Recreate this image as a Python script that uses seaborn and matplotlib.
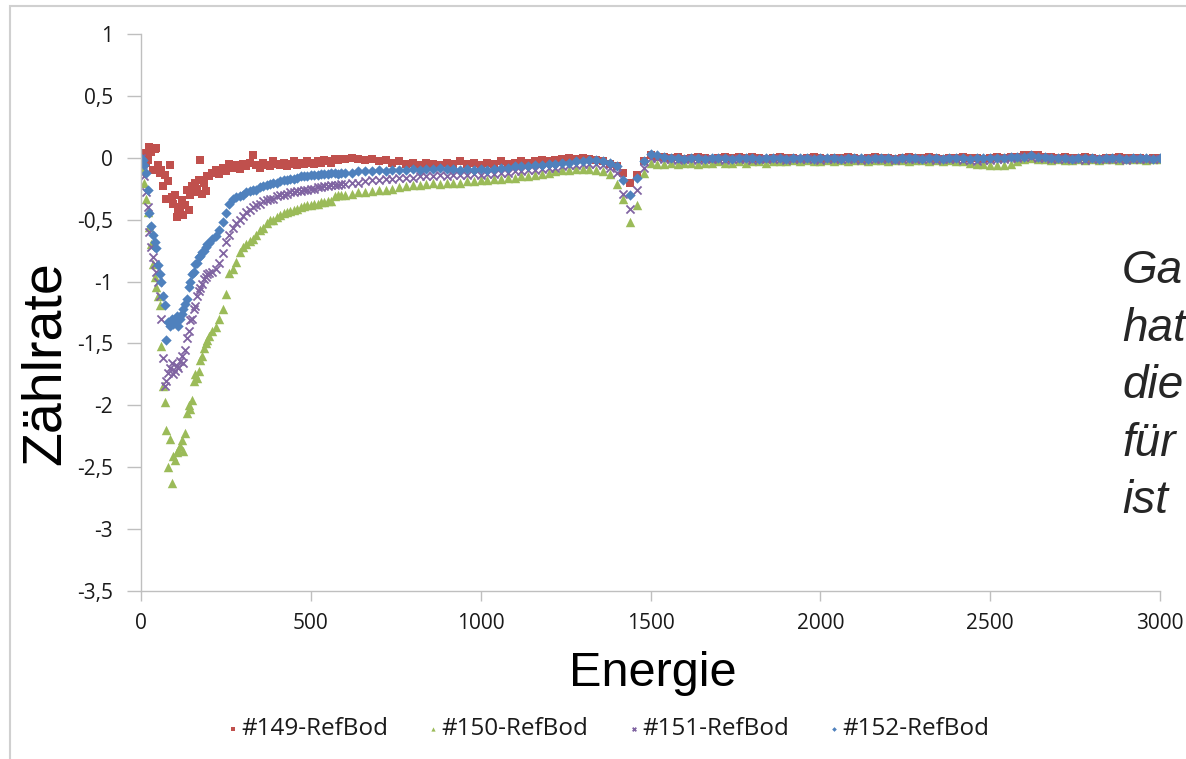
import numpy as np
import pandas as pd
import seaborn as sns
import matplotlib.pyplot as plt
from matplotlib.patches import Rectangle

# Energie-Raster: fein am Anfang, groeber im flachen Teil
energie = list(range(0, 200, 5)) + list(range(200, 600, 10)) + list(range(600, 3001, 20))

# #149-RefBod
rot_149 = [
    # 0 .. 195 (Schritt 5)
    0.0, 0.04, 0.02, -0.04, -0.02, 0.09, 0.05, -0.10, 0.07, 0.08,
    -0.06, -0.12, -0.10, -0.23, -0.14, -0.33, -0.19, -0.06, -0.32, -0.37,
    -0.30, -0.48, -0.44, -0.40, -0.34, -0.46, -0.38, -0.26, -0.42, -0.30,
    -0.23, -0.28, -0.20, -0.25, -0.18, -0.02, -0.29, -0.20, -0.27, -0.15,
    # 200 .. 590 (Schritt 10)
    -0.15, -0.12, -0.10, -0.13, -0.08, -0.11, -0.05, -0.08, -0.06, -0.09,
    -0.05, -0.07, -0.04, 0.02, -0.06, -0.08, -0.04, -0.06, -0.07, -0.03,
    -0.05, -0.06, -0.04, -0.07, -0.05, -0.03, -0.06, -0.04, -0.05, -0.03,
    -0.04, -0.05, -0.03, -0.04, -0.02, -0.03, -0.04, -0.01, -0.02, -0.01,
    # 600 .. 3000 (Schritt 20)
    -0.01, 0.0, -0.01, -0.02, -0.01, -0.03, -0.02, -0.04, -0.03, -0.05,
    -0.04, -0.06, -0.04, -0.05, -0.06, -0.04, -0.05, -0.03, -0.05, -0.04,
    -0.06, -0.04, -0.05, -0.03, -0.05, -0.04, -0.03, -0.04, -0.03, -0.02,
    -0.03, -0.02, -0.01, 0.0, -0.01, 0.0, -0.01, -0.02, -0.03, -0.05,
    -0.07, -0.12, -0.20, -0.14, -0.03, 0.02, 0.01,
    0.01, 0.0, 0.01, -0.01, 0.0, 0.01, 0.0, -0.01, 0.0, 0.01,
    0.0, 0.01, 0.0, 0.01, 0.0, -0.01, 0.0, 0.01, 0.0, 0.0,
    -0.01, 0.0, 0.01, 0.0, -0.01, 0.0, 0.0, 0.01, 0.0, -0.01,
    0.0, 0.01, 0.0, 0.0, -0.01, 0.0, 0.01, 0.0, 0.0, 0.01,
    0.0, -0.01, 0.0, 0.0, 0.01, 0.0, 0.0, -0.01, 0.0, 0.01,
    0.0, 0.01, 0.01, 0.02, 0.02, 0.02, 0.01, 0.01, 0.0, 0.01,
    0.0, 0.0, 0.01, 0.0, -0.01, 0.0, 0.0, 0.01, 0.0, 0.0,
    0.0, -0.01, 0.0, 0.0,
]

# #150-RefBod
gruen_150 = [
    0.0, -0.10, -0.20, -0.33, -0.44, -0.56, -0.70, -0.86, -0.96, -1.04,
    -1.12, -1.19, -1.52, -1.84, -1.97, -2.20, -2.50, -2.27, -2.63, -2.41,
    -2.44, -2.38, -2.36, -2.33, -2.28, -2.37, -2.22, -2.06, -2.00, -2.03,
    -1.96, -1.80, -1.75, -1.78, -1.72, -1.63, -1.60, -1.54, -1.50, -1.47,
    -1.44, -1.40, -1.37, -1.30, -1.22, -1.10, -0.93, -0.90, -0.84, -0.76,
    -0.72, -0.70, -0.67, -0.66, -0.62, -0.58, -0.57, -0.53, -0.50, -0.50,
    -0.48, -0.46, -0.45, -0.44, -0.43, -0.42, -0.41, -0.40, -0.39, -0.38,
    -0.38, -0.37, -0.37, -0.36, -0.36, -0.35, -0.35, -0.31, -0.30, -0.30,
    -0.30, -0.29, -0.28, -0.28, -0.27, -0.26, -0.26, -0.25, -0.24, -0.23,
    -0.22, -0.22, -0.21, -0.20, -0.21, -0.20, -0.20, -0.20, -0.19, -0.19,
    -0.18, -0.18, -0.17, -0.17, -0.16, -0.16, -0.15, -0.15, -0.14, -0.13,
    -0.12, -0.11, -0.10, -0.10, -0.09, -0.09, -0.09, -0.10, -0.11, -0.13,
    -0.21, -0.33, -0.52, -0.38, -0.12, -0.04, -0.05,
    -0.05, -0.04, -0.05, -0.04, -0.04, -0.05, -0.04, -0.04, -0.03, -0.04,
    -0.04, -0.03, -0.04, -0.03, -0.03, -0.04, -0.03, -0.03, -0.03, -0.02,
    -0.03, -0.02, -0.03, -0.03, -0.02, -0.03, -0.02, -0.03, -0.02, -0.02,
    -0.03, -0.02, -0.02, -0.03, -0.02, -0.02, -0.03, -0.02, -0.02, -0.03,
    -0.02, -0.03, -0.02, -0.03, -0.03, -0.04, -0.05, -0.05, -0.06, -0.06,
    -0.06, -0.05, -0.03, -0.01, 0.0, -0.01, -0.01, -0.02, -0.01, -0.02,
    -0.02, -0.01, -0.02, -0.01, -0.02, -0.01, -0.01, -0.02, -0.01, -0.01,
    -0.01, -0.02, -0.01, -0.01,
]

# #151-RefBod
lila_151 = [
    0.0, -0.05, -0.15, -0.28, -0.40, -0.60, -0.72, -0.80, -0.86, -0.92,
    -1.00, -1.12, -1.30, -1.62, -1.84, -1.80, -1.74, -1.70, -1.66, -1.75,
    -1.72, -1.68, -1.70, -1.64, -1.60, -1.66, -1.55, -1.46, -1.40, -1.31,
    -1.30, -1.22, -1.20, -1.12, -1.08, -1.05, -1.02, -0.98, -0.96, -0.94,
    -0.93, -0.92, -0.90, -0.85, -0.77, -0.68, -0.62, -0.57, -0.53, -0.50,
    -0.47, -0.44, -0.42, -0.40, -0.38, -0.37, -0.35, -0.34, -0.33, -0.33,
    -0.31, -0.30, -0.30, -0.29, -0.28, -0.28, -0.27, -0.27, -0.26, -0.26,
    -0.25, -0.25, -0.24, -0.24, -0.23, -0.23, -0.22, -0.22, -0.22, -0.21,
    -0.21, -0.20, -0.20, -0.19, -0.18, -0.18, -0.17, -0.17, -0.16, -0.16,
    -0.16, -0.15, -0.15, -0.15, -0.14, -0.15, -0.14, -0.14, -0.14, -0.13,
    -0.14, -0.13, -0.13, -0.12, -0.12, -0.11, -0.11, -0.10, -0.10, -0.09,
    -0.08, -0.08, -0.07, -0.06, -0.06, -0.05, -0.05, -0.05, -0.06, -0.08,
    -0.12, -0.29, -0.41, -0.26, -0.08, 0.0, 0.0,
    -0.01, -0.01, -0.02, -0.01, -0.01, -0.02, -0.01, -0.01, -0.01, -0.02,
    -0.01, -0.01, -0.01, -0.02, -0.01, -0.01, -0.01, -0.01, -0.02, -0.01,
    -0.01, -0.01, -0.01, -0.02, -0.01, -0.01, -0.01, -0.01, -0.01, -0.02,
    -0.01, -0.01, -0.01, -0.01, -0.02, -0.01, -0.01, -0.01, -0.01, -0.01,
    -0.02, -0.01, -0.01, -0.01, -0.02, -0.02, -0.03, -0.02, -0.02, -0.01,
    -0.01, 0.0, 0.0, 0.01, 0.01, 0.0, 0.0, -0.01, -0.01, -0.01,
    -0.01, -0.01, -0.02, -0.01, -0.01, -0.01, -0.01, -0.01, -0.02, -0.01,
    -0.01, -0.01, -0.01, -0.01,
]

# #152-RefBod
blau_152 = [
    0.0, -0.02, -0.06, -0.12, -0.26, -0.45, -0.55, -0.62, -0.68, -0.73,
    -0.87, -0.94, -1.00, -1.12, -1.19, -1.47, -1.33, -1.36, -1.30, -1.34,
    -1.32, -1.28, -1.36, -1.30, -1.26, -1.22, -1.18, -1.14, -1.04, -1.00,
    -0.94, -0.92, -0.86, -0.85, -0.80, -0.79, -0.76, -0.75, -0.72, -0.70,
    -0.69, -0.66, -0.63, -0.58, -0.52, -0.45, -0.37, -0.33, -0.32, -0.31,
    -0.30, -0.28, -0.27, -0.26, -0.26, -0.24, -0.23, -0.22, -0.21, -0.20,
    -0.20, -0.19, -0.18, -0.18, -0.17, -0.17, -0.16, -0.15, -0.15, -0.15,
    -0.14, -0.14, -0.14, -0.13, -0.13, -0.13, -0.12, -0.12, -0.13, -0.12,
    -0.12, -0.12, -0.11, -0.11, -0.11, -0.10, -0.11, -0.10, -0.10, -0.10,
    -0.09, -0.10, -0.09, -0.09, -0.08, -0.09, -0.09, -0.10, -0.09, -0.10,
    -0.09, -0.10, -0.09, -0.08, -0.08, -0.07, -0.07, -0.07, -0.06, -0.06,
    -0.05, -0.05, -0.04, -0.04, -0.03, -0.03, -0.02, -0.02, -0.03, -0.04,
    -0.07, -0.18, -0.30, -0.16, -0.03, 0.03, 0.02,
    0.01, 0.0, 0.0, -0.01, 0.0, 0.0, -0.01, 0.0, 0.0, 0.0,
    -0.01, 0.0, 0.0, 0.0, -0.01, 0.0, 0.0, 0.0, -0.01, 0.0,
    0.0, 0.0, -0.01, 0.0, 0.0, 0.0, -0.01, 0.0, 0.0, 0.0,
    -0.01, 0.0, 0.0, 0.0, -0.01, 0.0, 0.0, 0.0, -0.01, 0.0,
    0.0, -0.01, 0.0, 0.0, 0.0, -0.01, 0.0, 0.0, 0.0, 0.0,
    0.0, 0.01, 0.01, 0.01, 0.02, 0.01, 0.01, 0.0, 0.0, 0.0,
    -0.01, 0.0, 0.0, 0.0, -0.01, 0.0, 0.0, 0.0, -0.01, 0.0,
    0.0, 0.0, -0.01, 0.0,
]

serien = ["#149-RefBod", "#150-RefBod", "#151-RefBod", "#152-RefBod"]
farben = ["#C0504D", "#9BBB59", "#8064A2", "#4F81BD"]
marker = ["s", "^", "x", "D"]
groessen = [30, 46, 34, 28]

y_ticks = [1, 0.5, 0, -0.5, -1, -1.5, -2, -2.5, -3, -3.5]
y_ticklabels = ["1", "0,5", "0", "-0,5", "-1", "-1,5", "-2", "-2,5", "-3", "-3,5"]
x_ticks = [0, 500, 1000, 1500, 2000, 2500, 3000]

seitentext = ["Ga", "hat", "die", "für", "ist"]

df = pd.DataFrame({
    "Energie": energie * 4,
    "Zaehlrate": rot_149 + gruen_150 + lila_151 + blau_152,
    "Serie": np.repeat(serien, len(energie)),
})

sns.set_theme(style="white")
plt.rcParams["font.family"] = ["Open Sans", "DejaVu Sans"]

fig = plt.figure(figsize=(11.86, 7.59), dpi=100)
ax = fig.add_axes([141 / 1186, 1 - 591 / 759, (1160 - 141) / 1186, (591 - 34) / 759])

for name, col, m, s in zip(serien, farben, marker, groessen):
    sub = df[df["Serie"] == name]
    if m == "x":
        sns.scatterplot(data=sub, x="Energie", y="Zaehlrate", marker=m, color=col,
                        s=s, linewidth=1.3, label=name, ax=ax)
    else:
        sns.scatterplot(data=sub, x="Energie", y="Zaehlrate", marker=m, color=col,
                        s=s, linewidth=0, label=name, ax=ax)

ax.set_xlim(0, 3000)
ax.set_ylim(-3.5, 1)
ax.set_yticks(y_ticks, y_ticklabels)
ax.set_xticks(x_ticks)
for sp in ["top", "right"]:
    ax.spines[sp].set_visible(False)
for sp in ["left", "bottom"]:
    ax.spines[sp].set_color("#BFBFBF")
    ax.spines[sp].set_linewidth(1.0)
ax.tick_params(axis="y", direction="out", length=10, width=1, color="#BFBFBF",
               pad=10, labelsize=15, labelcolor="#1a1a1a", left=True)
ax.tick_params(axis="x", direction="out", length=7, width=1, color="#BFBFBF",
               pad=9, labelsize=15, labelcolor="#1a1a1a", bottom=True)

ax.set_ylabel("Zählrate", fontsize=40, family=["Liberation Sans", "DejaVu Sans"],
              color="black")
ax.yaxis.set_label_coords(-0.068, 0.41)
ax.set_xlabel("Energie", fontsize=35, family=["Liberation Sans", "DejaVu Sans"],
              color="black")
ax.xaxis.label.set_va("baseline")
ax.xaxis.set_label_coords((653 - 141) / 1019, (591 - 686) / 557)

ax.get_legend().remove()
handles, labels = ax.get_legend_handles_labels()
fig.legend(handles, labels, loc="center", bbox_to_anchor=(608 / 1186, 1 - 729 / 759),
           ncol=4, frameon=False, markerscale=0.45, handlelength=0.5,
           handletextpad=0.1, columnspacing=1.6, fontsize=17.5, labelcolor="#1a1a1a")

for i, t in enumerate(seitentext):
    fig.text(1122 / 1186, 1 - (283 + i * 57.5) / 759, t, fontsize=33, style="italic",
             family=["Liberation Sans", "DejaVu Sans"], va="baseline", ha="left")

fig.add_artist(Rectangle((10 / 1186, -0.02), 1.0, 1 - 6 / 759 + 0.02,
                         transform=fig.transFigure, fill=False,
                         edgecolor="#D0D0D0", linewidth=1.5))

fig.savefig("out.png", dpi=100)
